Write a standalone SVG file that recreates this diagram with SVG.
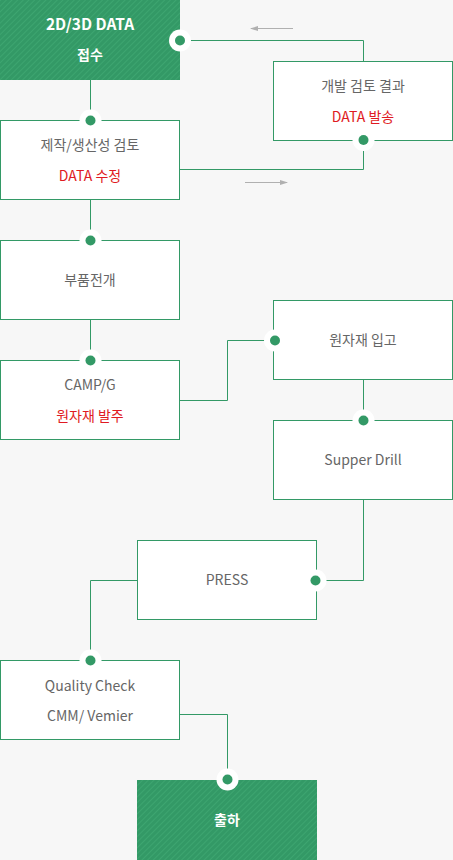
<svg xmlns="http://www.w3.org/2000/svg" width="453" height="860" viewBox="0 0 453 860">
<style>
.bg{fill:#f7f7f7}
.box{fill:#fff;stroke:#339966;stroke-width:1}
.gbox{fill:url(#stripe)}
.t{font-family:"Noto Sans CJK KR","Noto Sans",sans-serif;font-size:14px;fill:#666;text-anchor:middle}
.r{fill:#e01a22}
.w{fill:#fff;font-weight:bold;font-size:14px}
.c{fill:none;stroke:#339966;stroke-width:1}
.halo{fill:#fff}
.dot{fill:#339966}
.ar{stroke:#b0b0b0;stroke-width:1;fill:none}
</style>
<defs>
<pattern id="stripe" width="4" height="4" patternUnits="userSpaceOnUse" patternTransform="rotate(45)">
<rect width="4" height="4" fill="#339966"/>
<rect width="1" height="4" fill="#3da570"/>
</pattern>
<marker id="ah" markerWidth="8" markerHeight="6" refX="7" refY="3" orient="auto" markerUnits="userSpaceOnUse">
<path d="M0,0.5 L8,3 L0,5.5 Z" fill="#b0b0b0"/>
</marker>
</defs>
<rect class="bg" width="453" height="860"/>
<g id="connectors">
<path class="c" d="M180,40.5 H363.5 V61"/>
<path class="c" d="M180,169.5 H363.5 V140"/>
<path class="c" d="M90.5,80 V120"/>
<path class="c" d="M90.5,200 V240"/>
<path class="c" d="M90.5,320 V360"/>
<path class="c" d="M180,400.5 H227.5 V340.5 H273"/>
<path class="c" d="M363.5,380 V420"/>
<path class="c" d="M363.5,500 V580.5 H317"/>
<path class="c" d="M137,580.5 H90.5 V660"/>
<path class="c" d="M180,714.5 H227.5 V780"/>
<line class="ar" x1="293" y1="28.5" x2="251" y2="28.5" marker-end="url(#ah)"/>
<line class="ar" x1="245" y1="182.5" x2="287" y2="182.5" marker-end="url(#ah)"/>
</g>
<g id="n1">
<rect class="gbox" x="0" y="0" width="180" height="80"/>
<text class="t w" x="90" y="30" style="font-size:15.5px">2D/3D DATA</text>
<text class="t w" x="90" y="60">접수</text>
</g>
<g id="n2">
<rect class="box" x="273.5" y="61.5" width="179" height="79"/>
<text class="t" x="363" y="91">개발 검토 결과</text>
<text class="t r" x="363" y="122">DATA 발송</text>
</g>
<g id="n3">
<rect class="box" x="0.5" y="120.5" width="179" height="79"/>
<text class="t" x="90" y="150">제작/생산성 검토</text>
<text class="t r" x="90" y="181">DATA 수정</text>
</g>
<g id="n4">
<rect class="box" x="0.5" y="240.5" width="179" height="79"/>
<text class="t" x="90" y="285">부품전개</text>
</g>
<g id="n5">
<rect class="box" x="273.5" y="300.5" width="179" height="79"/>
<text class="t" x="363" y="345">원자재 입고</text>
</g>
<g id="n6">
<rect class="box" x="0.5" y="360.5" width="179" height="79"/>
<text class="t" x="90" y="390">CAMP/G</text>
<text class="t r" x="90" y="421">원자재 발주</text>
</g>
<g id="n7">
<rect class="box" x="273.5" y="420.5" width="179" height="79"/>
<text class="t" x="363" y="465">Supper Drill</text>
</g>
<g id="n8">
<rect class="box" x="137.5" y="540.5" width="179" height="79"/>
<text class="t" x="227" y="585">PRESS</text>
</g>
<g id="n9">
<rect class="box" x="0.5" y="660.5" width="179" height="79"/>
<text class="t" x="90" y="691">Quality Check</text>
<text class="t" x="90" y="721">CMM/ Vemier</text>
</g>
<g id="n10">
<rect class="gbox" x="137" y="780" width="180" height="80"/>
<text class="t w" x="227" y="825">출하</text>
</g>
<g id="dots">
<circle class="halo" cx="180" cy="40.5" r="11"/><circle class="dot" cx="180" cy="40.5" r="5"/>
<circle class="halo" cx="90.5" cy="120.5" r="11"/><circle class="dot" cx="90.5" cy="120.5" r="5"/>
<circle class="halo" cx="363.5" cy="140" r="11"/><circle class="dot" cx="363.5" cy="140" r="5"/>
<circle class="halo" cx="90.5" cy="240.5" r="11"/><circle class="dot" cx="90.5" cy="240.5" r="5"/>
<circle class="halo" cx="275" cy="340.5" r="11"/><circle class="dot" cx="275" cy="340.5" r="5"/>
<circle class="halo" cx="90.5" cy="360.5" r="11"/><circle class="dot" cx="90.5" cy="360.5" r="5"/>
<circle class="halo" cx="363.5" cy="420.5" r="11"/><circle class="dot" cx="363.5" cy="420.5" r="5"/>
<circle class="halo" cx="315.5" cy="580.5" r="11"/><circle class="dot" cx="315.5" cy="580.5" r="5"/>
<circle class="halo" cx="90.5" cy="660.5" r="11"/><circle class="dot" cx="90.5" cy="660.5" r="5"/>
<circle class="halo" cx="227.5" cy="779.5" r="11"/><circle class="dot" cx="227.5" cy="779.5" r="5"/>
</g>
</svg>
